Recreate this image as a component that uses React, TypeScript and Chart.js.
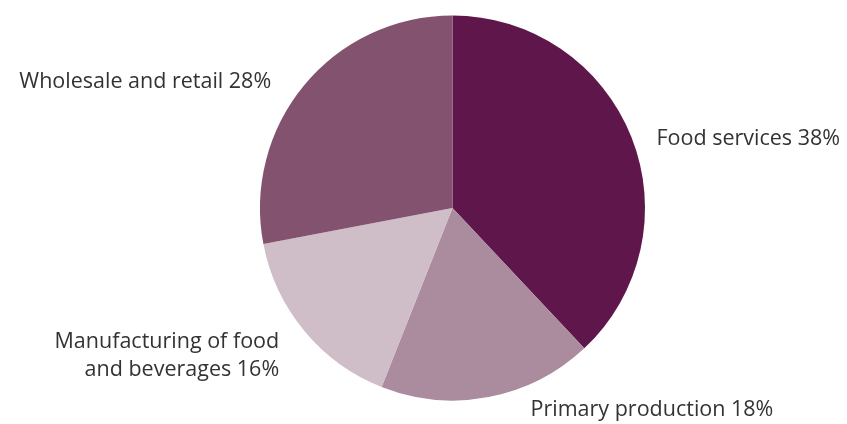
import React, { useEffect, useRef } from "react";
import { Chart, registerables } from "chart.js";

Chart.register(...registerables);

const categories = ["Food services", "Primary production", "Manufacturing of food and beverages", "Wholesale and retail"];
const labelLines = [["Food services 38%"], ["Primary production 18%"], ["Manufacturing of food", "and beverages 16%"], ["Wholesale and retail 28%"]];
const values = [38, 18, 16, 28];
const colors = ["#5e164b", "#ab8b9e", "#cfbdc7", "#83526f"];
// label placement relative to the arc's mid-angle point on its rim
const labelPlacement = [
  { dx: 25, dy: 2, align: "left" },
  { dx: 42, dy: 13, align: "left" },
  { dx: -25, dy: 25, align: "right" },
  { dx: -33, dy: -3, align: "right" },
];

const labelPlugin = {
  id: "outerLabels",
  afterDraw(chart: any) {
    const ctx = chart.ctx;
    const meta = chart.getDatasetMeta(0);
    ctx.save();
    ctx.font = '21.5px "Open Sans", sans-serif';
    ctx.fillStyle = "#333333";
    ctx.textBaseline = "middle";
    meta.data.forEach((arc: any, i: number) => {
      const { x, y, startAngle, endAngle, outerRadius } = arc.getProps(["x", "y", "startAngle", "endAngle", "outerRadius"], true);
      const mid = (startAngle + endAngle) / 2;
      const px = x + Math.cos(mid) * outerRadius;
      const py = y + Math.sin(mid) * outerRadius;
      const p = labelPlacement[i];
      const lines = labelLines[i];
      const lh = 28;
      ctx.textAlign = p.align as CanvasTextAlign;
      lines.forEach((line, j) => {
        const ly = py + p.dy + (j - (lines.length - 1) / 2) * lh;
        ctx.fillText(line, px + p.dx, ly);
      });
    });
    ctx.restore();
  },
};

export default function App() {
  const ref = useRef<HTMLCanvasElement>(null);
  useEffect(() => {
    const chart = new Chart(ref.current!, {
      type: "pie",
      data: {
        labels: categories,
        datasets: [{ data: values, backgroundColor: colors, borderWidth: 0 }],
      },
      options: {
        animation: false,
        responsive: true,
        maintainAspectRatio: false,
        layout: { padding: { left: 260, right: 202, top: 15, bottom: 23 } },
        plugins: { legend: { display: false }, tooltip: { enabled: false } },
      },
      plugins: [labelPlugin],
    });
    return () => chart.destroy();
  }, []);
  return (
    <div style={{ position: "fixed", left: 0, top: 0, width: 847, height: 424, background: "#fff" }}>
      <canvas ref={ref} />
    </div>
  );
}
